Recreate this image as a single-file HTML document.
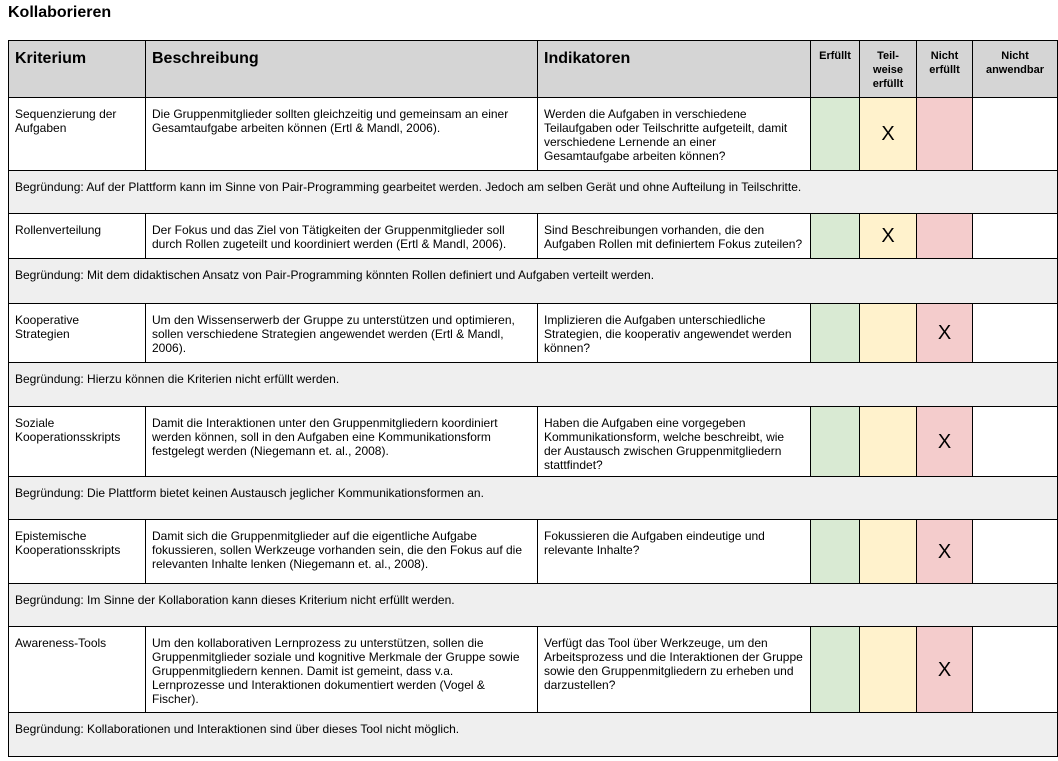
<!DOCTYPE html>
<html><head><meta charset="utf-8"><style>
body{margin:0;width:1058px;height:761px;background:#fff;font-family:"Liberation Sans",Arial,sans-serif;color:#000;position:relative;overflow:hidden}
h1{position:absolute;left:8px;top:4px;margin:0;font-size:16px;font-weight:bold;line-height:18px}
table{position:absolute;left:8px;top:40px;border-collapse:collapse;table-layout:fixed;width:1049px}
td{border:1px solid #000;padding:9px 2px 0 6px;vertical-align:top;font-size:12px;line-height:14px;box-sizing:border-box;white-space:nowrap;overflow:hidden}
tr.h td{background:#d5d5d5;font-weight:bold;font-size:16px;line-height:18px;padding-top:9px}
tr.h td.s{font-size:11px;line-height:14px;text-align:center;padding:8px 2px 0}
td.g{background:#d9ead3}td.y{background:#fff2cc}td.r{background:#f4cccc}
td.x{font-size:20px;text-align:center;vertical-align:middle;padding:0}
tr.b td{background:#efefef}
</style></head><body>
<h1>Kollaborieren</h1>
<table>
<colgroup><col style="width:137px"><col style="width:392px"><col style="width:273px"><col style="width:49px"><col style="width:57px"><col style="width:56px"><col style="width:85px"></colgroup>
<tr class="h" style="height:57px"><td>Kriterium</td><td>Beschreibung</td><td>Indikatoren</td><td class="s">Erfüllt</td><td class="s">Teil-<br>weise<br>erfüllt</td><td class="s">Nicht<br>erfüllt</td><td class="s">Nicht<br>anwendbar</td></tr>
<tr style="height:73px"><td>Sequenzierung der<br>Aufgaben</td><td>Die Gruppenmitglieder sollten gleichzeitig und gemeinsam an einer<br>Gesamtaufgabe arbeiten können (Ertl &amp; Mandl, 2006).</td><td>Werden die Aufgaben in verschiedene<br>Teilaufgaben oder Teilschritte aufgeteilt, damit<br>verschiedene Lernende an einer<br>Gesamtaufgabe arbeiten können?</td><td class="g"></td><td class="y x">X</td><td class="r"></td><td></td></tr>
<tr class="b" style="height:43px"><td colspan="7">Begründung: Auf der Plattform kann im Sinne von Pair-Programming gearbeitet werden. Jedoch am selben Gerät und ohne Aufteilung in Teilschritte.</td></tr>
<tr style="height:45px"><td>Rollenverteilung</td><td>Der Fokus und das Ziel von Tätigkeiten der Gruppenmitglieder soll<br>durch Rollen zugeteilt und koordiniert werden (Ertl &amp; Mandl, 2006).</td><td>Sind Beschreibungen vorhanden, die den<br>Aufgaben Rollen mit definiertem Fokus zuteilen?</td><td class="g"></td><td class="y x">X</td><td class="r"></td><td></td></tr>
<tr class="b" style="height:45px"><td colspan="7">Begründung: Mit dem didaktischen Ansatz von Pair-Programming könnten Rollen definiert und Aufgaben verteilt werden.</td></tr>
<tr style="height:59px"><td>Kooperative<br>Strategien</td><td>Um den Wissenserwerb der Gruppe zu unterstützen und optimieren,<br>sollen verschiedene Strategien angewendet werden (Ertl &amp; Mandl,<br>2006).</td><td>Implizieren die Aufgaben unterschiedliche<br>Strategien, die kooperativ angewendet werden<br>können?</td><td class="g"></td><td class="y"></td><td class="r x">X</td><td></td></tr>
<tr class="b" style="height:44px"><td colspan="7">Begründung: Hierzu können die Kriterien nicht erfüllt werden.</td></tr>
<tr style="height:70px"><td>Soziale<br>Kooperationsskripts</td><td>Damit die Interaktionen unter den Gruppenmitgliedern koordiniert<br>werden können, soll in den Aufgaben eine Kommunikationsform<br>festgelegt werden (Niegemann et. al., 2008).</td><td>Haben die Aufgaben eine vorgegeben<br>Kommunikationsform, welche beschreibt, wie<br>der Austausch zwischen Gruppenmitgliedern<br>stattfindet?</td><td class="g"></td><td class="y"></td><td class="r x">X</td><td></td></tr>
<tr class="b" style="height:43px"><td colspan="7">Begründung: Die Plattform bietet keinen Austausch jeglicher Kommunikationsformen an.</td></tr>
<tr style="height:64px"><td>Epistemische<br>Kooperationsskripts</td><td>Damit sich die Gruppenmitglieder auf die eigentliche Aufgabe<br>fokussieren, sollen Werkzeuge vorhanden sein, die den Fokus auf die<br>relevanten Inhalte lenken (Niegemann et. al., 2008).</td><td>Fokussieren die Aufgaben eindeutige und<br>relevante Inhalte?</td><td class="g"></td><td class="y"></td><td class="r x">X</td><td></td></tr>
<tr class="b" style="height:43px"><td colspan="7">Begründung: Im Sinne der Kollaboration kann dieses Kriterium nicht erfüllt werden.</td></tr>
<tr style="height:86px"><td>Awareness-Tools</td><td>Um den kollaborativen Lernprozess zu unterstützen, sollen die<br>Gruppenmitglieder soziale und kognitive Merkmale der Gruppe sowie<br>Gruppenmitgliedern kennen. Damit ist gemeint, dass v.a.<br>Lernprozesse und Interaktionen dokumentiert werden (Vogel &amp;<br>Fischer).</td><td>Verfügt das Tool über Werkzeuge, um den<br>Arbeitsprozess und die Interaktionen der Gruppe<br>sowie den Gruppenmitgliedern zu erheben und<br>darzustellen?</td><td class="g"></td><td class="y"></td><td class="r x">X</td><td></td></tr>
<tr class="b" style="height:44px"><td colspan="7">Begründung: Kollaborationen und Interaktionen sind über dieses Tool nicht möglich.</td></tr>
</table>
</body></html>
